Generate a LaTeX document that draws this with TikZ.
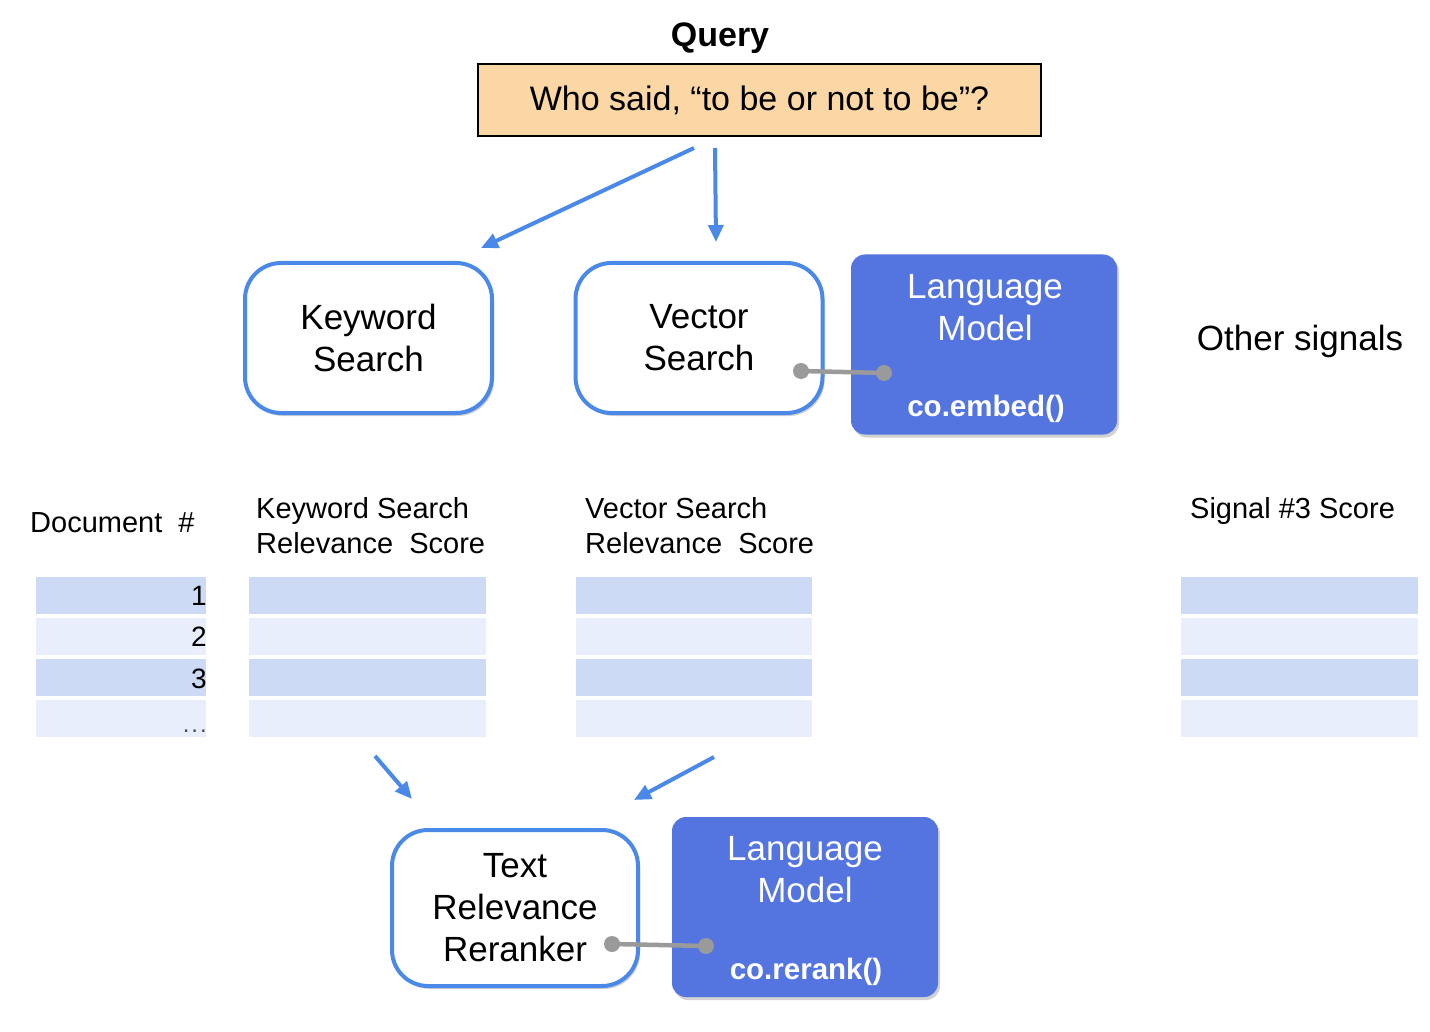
\documentclass[tikz,border=0pt]{standalone}
\usepackage{fontspec}
\setmainfont{Liberation Sans}
\usetikzlibrary{arrows.meta,shadows}
\definecolor{qfill}{HTML}{FBD7A5}
\definecolor{bblue}{HTML}{4A89E8}
\definecolor{lmfill}{HTML}{5474E0}
\definecolor{rowdark}{HTML}{CDDAF5}
\definecolor{rowlight}{HTML}{E8EEFB}
\definecolor{conngray}{HTML}{9A9A9A}
\begin{document}
\begin{tikzpicture}[x=1pt,y=-1pt,
  big/.style={font=\fontsize{35}{42}\selectfont},
  hdr/.style={font=\fontsize{29}{35}\selectfont, inner sep=0pt, anchor=base west},
  sbox/.style={draw=bblue, line width=4pt, rounded corners=36pt, fill=white,
    minimum width=247pt, minimum height=150pt, align=center, big,
    drop shadow={shadow xshift=2pt, shadow yshift=-3pt, opacity=0.18, fill=black}},
  lmbox/.style={fill=lmfill, rounded corners=14pt, minimum width=266pt, minimum height=180pt,
    drop shadow={shadow xshift=2pt, shadow yshift=-3pt, opacity=0.18, fill=black}},
  lmtext/.style={big, text=white, inner sep=0pt, align=center},
  codetext/.style={font=\bfseries\fontsize{29.5}{34}\selectfont, text=white, inner sep=0pt},
  arr/.style={draw=bblue, line width=4pt, -{Triangle[length=17pt,width=15pt]}},
  conn/.style={draw=conngray, line width=4.5pt},
  dotn/.style={circle, fill=conngray, minimum size=16pt, inner sep=0pt},
  dark/.style={fill=rowdark, minimum height=37pt, inner sep=0pt, anchor=north west},
  light/.style={fill=rowlight, minimum height=37pt, inner sep=0pt, anchor=north west},
  num/.style={font=\fontsize{28}{32}\selectfont, inner sep=0pt, anchor=east}
]
\useasboundingbox[fill=white] (0,0) rectangle (1430,1032);

% Query
\node[font=\bfseries\fontsize{34}{40}\selectfont, inner sep=0pt] (qlabel) at (720,38) {Query};
\node[draw=black, line width=2pt, fill=qfill, minimum width=563pt, minimum height=72pt,
  font=\fontsize{34}{40}\selectfont] (query) at (759.5,100) {Who said, “to be or not to be”?};

% search boxes
\node[sbox] (kw) at (368.5,338) {Keyword\\Search};
\node[sbox] (vec) at (699,338) {Vector\\Search};
\node[lmbox] (lm1) at (984,344.5) {};
\node[lmtext] (lm1t) at (985,308) {Language\\Model};
\node[codetext] (lm1c) at (986,409) {co.embed()};
\node[big, inner sep=0pt] (other) at (1300,341) {Other signals};

% arrows from query
\coordinate (q1) at (694,148);
\coordinate (q2) at (715,148);
\coordinate (k1) at (481,248);
\coordinate (v1) at (716,242);
\draw[arr] (q1) -- (k1);
\draw[arr] (q2) -- (v1);

% embed connector
\coordinate (e1) at (801,371);
\coordinate (e2) at (884,373);
\draw[conn] (e1) -- (e2);
\node[dotn] (ed1) at (e1) {};
\node[dotn] (ed2) at (e2) {};

% table headers
\node[hdr] (hdoc) at (30,532) {Document \ \#};
\node[hdr] (hkw1) at (256,518) {Keyword Search};
\node[hdr] (hkw2) at (256,553) {Relevance \ Score};
\node[hdr] (hv1) at (585,518) {Vector Search};
\node[hdr] (hv2) at (585,553) {Relevance \ Score};
\node[hdr] (hs) at (1190,518) {Signal \#3 Score};

% table rows
\foreach \i/\y/\st in {1/577/dark,2/618/light,3/659/dark,4/700/light}{
  \node[\st, minimum width=170pt] (doc\i) at (36,\y) {};
  \node[\st, minimum width=237pt] (kwr\i) at (249,\y) {};
  \node[\st, minimum width=236pt] (vr\i) at (576,\y) {};
  \node[\st, minimum width=237pt] (sr\i) at (1181,\y) {};
}
\node[num] (n1) at (207,596) {1};
\node[num] (n2) at (207,637) {2};
\node[num] (n3) at (207,679) {3};
\node[font=\fontsize{24}{28}\selectfont, inner sep=0pt, anchor=base east, text=black!70] (n4) at (207,732) {.\kern2pt.\kern2pt.};

% arrows to reranker
\coordinate (t1) at (375,756);
\coordinate (t2) at (412,799);
\coordinate (t3) at (714,757);
\coordinate (t4) at (634,800);
\draw[arr] (t1) -- (t2);
\draw[arr] (t3) -- (t4);

% reranker
\node[sbox, minimum width=246pt, minimum height=156pt] (rr) at (515,908) {Text\\Relevance\\Reranker};
\node[lmbox] (lm2) at (805,907) {};
\node[lmtext] (lm2t) at (805,870) {Language\\Model};
\node[codetext] (lm2c) at (806,972) {co.rerank()};

\coordinate (r1) at (612,944);
\coordinate (r2) at (706,946);
\draw[conn] (r1) -- (r2);
\node[dotn] (rd1) at (r1) {};
\node[dotn] (rd2) at (r2) {};
\end{tikzpicture}
\end{document}
